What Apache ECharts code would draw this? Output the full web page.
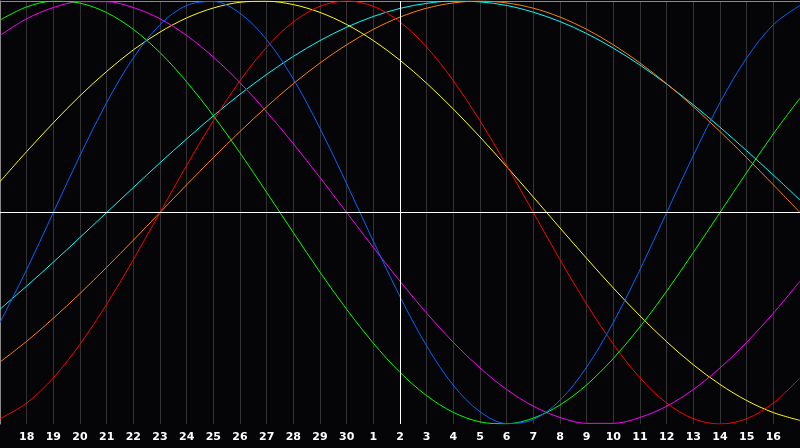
<!DOCTYPE html>
<html>
<head>
<meta charset="utf-8">
<script src="https://cdn.jsdelivr.net/npm/echarts@6/dist/echarts.min.js"></script>
<style>
html,body{margin:0;padding:0;background:#050508;}
#chart{width:800px;height:448px;}
</style>
</head>
<body>
<div id="chart"></div>
<script>
// Day labels (index 0 = 17th of previous month, index 30 = 17th of current month)
const dayLabels = ['17','18','19','20','21','22','23','24','25','26','27','28','29','30','1','2','3','4','5','6','7','8','9','10','11','12','13','14','15','16','17'];
const todayIndex = 15;

// Series values, one per day
const physical = [-0.520,-0.270,0,0.270,0.520,0.731,0.888,0.979,0.998,0.942,0.817,0.631,0.398,0.136,-0.136,-0.398,-0.631,-0.817,-0.942,-0.998,-0.979,-0.888,-0.731,-0.520,-0.270,0,0.270,0.520,0.731,0.888,0.979];
const emotional = [-0.975,-0.901,-0.782,-0.623,-0.434,-0.223,0,0.223,0.434,0.623,0.782,0.901,0.975,1,0.975,0.901,0.782,0.623,0.434,0.223,0,-0.223,-0.434,-0.623,-0.782,-0.901,-0.975,-1,-0.975,-0.901,-0.782];
const intellectual = [0.910,0.972,0.999,0.990,0.945,0.866,0.756,0.618,0.458,0.282,0.095,-0.095,-0.282,-0.458,-0.618,-0.756,-0.866,-0.945,-0.990,-0.999,-0.972,-0.910,-0.815,-0.690,-0.541,-0.372,-0.189,0,0.189,0.372,0.541];
const intuitive = [0.837,0.916,0.969,0.997,0.997,0.969,0.916,0.837,0.735,0.614,0.476,0.325,0.165,0,-0.165,-0.325,-0.476,-0.614,-0.735,-0.837,-0.916,-0.969,-0.997,-0.997,-0.969,-0.916,-0.837,-0.735,-0.614,-0.476,-0.325];
const aesthetic = [0.146,0.288,0.424,0.552,0.667,0.769,0.853,0.920,0.967,0.994,0.999,0.983,0.946,0.889,0.813,0.720,0.611,0.489,0.357,0.217,0.073,-0.073,-0.217,-0.357,-0.489,-0.611,-0.720,-0.813,-0.889,-0.946,-0.983];
const awareness = [-0.707,-0.609,-0.500,-0.383,-0.259,-0.131,0,0.131,0.259,0.383,0.500,0.609,0.707,0.793,0.866,0.924,0.966,0.991,1,0.991,0.966,0.924,0.866,0.793,0.707,0.609,0.500,0.383,0.259,0.131,0];
const spiritual = [-0.457,-0.348,-0.235,-0.118,0,0.118,0.235,0.348,0.457,0.559,0.653,0.738,0.813,0.876,0.927,0.965,0.989,1.000,0.996,0.979,0.947,0.903,0.846,0.777,0.697,0.607,0.509,0.403,0.292,0.177,0.059];

const seriesDefs = [
  {name:'Spiritual', data: spiritual, color:'#00ffff'},
  {name:'Awareness', data: awareness, color:'#ff8000'},
  {name:'Aesthetic', data: aesthetic, color:'#ffff00'},
  {name:'Intuitive', data: intuitive, color:'#ff00ff'},
  {name:'Intellectual', data: intellectual, color:'#00ff00'},
  {name:'Emotional', data: emotional, color:'#ff0000'},
  {name:'Physical', data: physical, color:'#0066ff'}
];

const chart = echarts.init(document.getElementById('chart'), null, {renderer:'canvas'});

const series = seriesDefs.map((s) => ({
  name: s.name,
  type: 'line',
  data: s.data.map((v, i) => [i, v]),
  smooth: 0.33,
  showSymbol: false,
  symbol: 'none',
  lineStyle: {color: s.color, width: 1},
  itemStyle: {color: s.color},
  silent: true,
  z: 3
}));

series.push({
  type: 'line',
  data: [],
  silent: true,
  z: 2,
  markLine: {
    symbol: 'none',
    silent: true,
    label: {show: false},
    lineStyle: {color: '#ffffff', width: 1, type: 'solid'},
    data: [{yAxis: 0}, {xAxis: todayIndex}]
  }
});

chart.setOption({
  animation: false,
  backgroundColor: '#050508',
  grid: {left: 0, right: 0, top: 1, height: 423, containLabel: false},
  xAxis: [{
    type: 'value',
    min: 0,
    max: dayLabels.length - 1,
    interval: 1,
    offset: 3,
    axisLine: {show: true, lineStyle: {color: '#8a8a8a', width: 1}},
    axisTick: {show: true, inside: true, length: 3, lineStyle: {color: '#333333'}},
    splitLine: {show: true, lineStyle: {color: '#333333', width: 1}},
    axisLabel: {
      color: '#ffffff',
      fontFamily: 'DejaVu Sans',
      fontWeight: 'bold',
      fontSize: 11,
      margin: 5,
      showMinLabel: false,
      showMaxLabel: false,
      formatter: function (v) {
        if (v <= 0 || v >= dayLabels.length - 1) return '';
        return dayLabels[v];
      }
    }
  }, {
    type: 'value',
    position: 'top',
    min: 0,
    max: dayLabels.length - 1,
    axisLine: {show: true, lineStyle: {color: '#8a8a8a', width: 1}},
    axisTick: {show: false},
    axisLabel: {show: false},
    splitLine: {show: false}
  }],
  yAxis: {
    type: 'value',
    min: -1,
    max: 1,
    interval: 1,
    axisLine: {show: true, lineStyle: {color: '#8a8a8a', width: 1}},
    axisTick: {show: false},
    axisLabel: {show: false},
    splitLine: {show: false}
  },
  series: series
});
</script>
</body>
</html>
